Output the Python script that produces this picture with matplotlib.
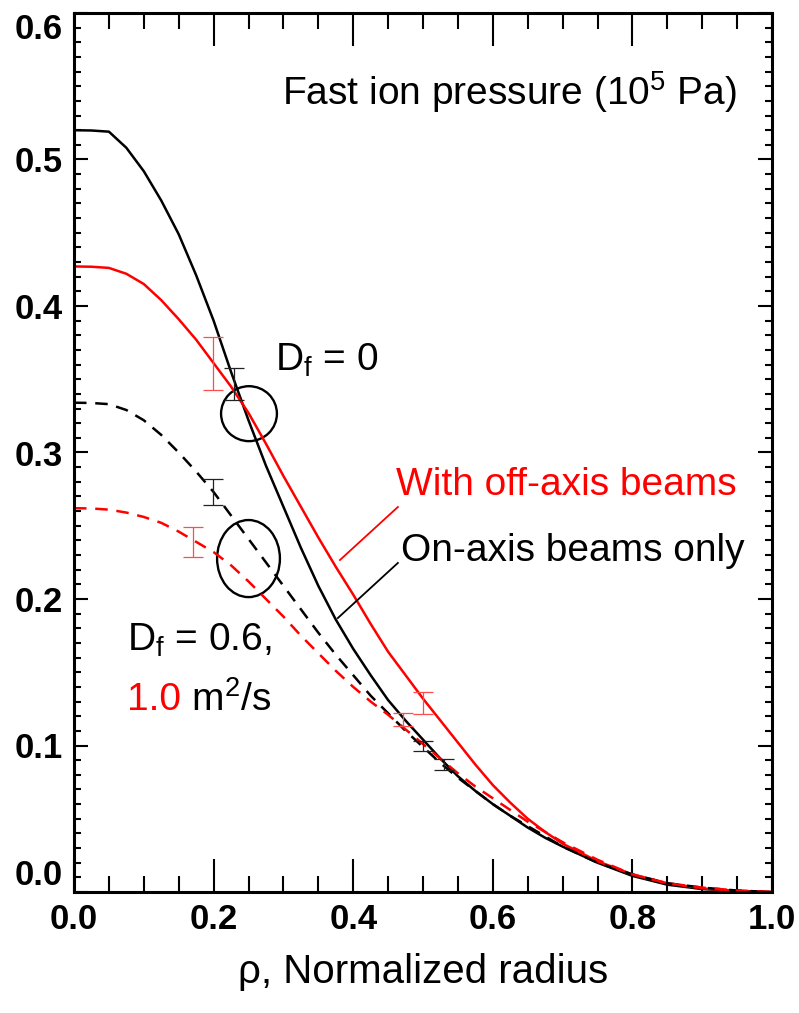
import matplotlib
matplotlib.use("Agg")
import matplotlib.pyplot as plt
from matplotlib import font_manager
from matplotlib.patches import Ellipse
from matplotlib.ticker import MultipleLocator

# pick a narrow helvetica-like font if there is one
narrow = "Liberation Sans Narrow"
try:
    font_manager.findfont(narrow, fallback_to_default=False)
except Exception:
    narrow = "Liberation Sans"
plt.rcParams["font.family"] = [narrow, "DejaVu Sans"]
plt.rcParams["mathtext.fontset"] = "custom"
plt.rcParams["mathtext.rm"] = narrow
plt.rcParams["mathtext.default"] = "regular"

rho = [0.0, 0.025, 0.05, 0.075, 0.1, 0.125, 0.15, 0.175, 0.2, 0.225, 0.25, 0.275, 0.3,
       0.325, 0.35, 0.375, 0.4, 0.425, 0.45, 0.475, 0.5, 0.525, 0.55, 0.575, 0.6,
       0.625, 0.65, 0.675, 0.7, 0.75, 0.8, 0.85, 0.9, 0.95, 1.0]

# D_f = 0
on_axis_d0 = [0.520, 0.5198, 0.519, 0.508, 0.492, 0.472, 0.449, 0.421, 0.390, 0.355, 0.322, 0.291, 0.263,
              0.235, 0.209, 0.186, 0.166, 0.148, 0.131, 0.117, 0.104, 0.091, 0.079, 0.069, 0.060,
              0.052, 0.044, 0.037, 0.031, 0.020, 0.011, 0.005, 0.002, 0.0008, 0.0]
off_axis_d0 = [0.427, 0.4268, 0.426, 0.422, 0.415, 0.404, 0.391, 0.377, 0.361, 0.345, 0.327, 0.306, 0.284,
               0.263, 0.242, 0.222, 0.203, 0.183, 0.164, 0.148, 0.132, 0.117, 0.102, 0.087, 0.073,
               0.061, 0.050, 0.041, 0.033, 0.021, 0.012, 0.006, 0.0025, 0.0006, 0.0]
# D_f = 0.6 / 1.0
on_axis_df = [0.334, 0.3338, 0.333, 0.329, 0.322, 0.312, 0.300, 0.287, 0.273, 0.257, 0.241, 0.225, 0.209,
              0.193, 0.177, 0.162, 0.148, 0.134, 0.122, 0.110, 0.099, 0.088, 0.078, 0.069, 0.060,
              0.052, 0.045, 0.038, 0.031, 0.020, 0.012, 0.006, 0.003, 0.001, 0.0]
off_axis_df = [0.262, 0.2618, 0.261, 0.259, 0.256, 0.252, 0.246, 0.239, 0.232, 0.223, 0.212, 0.200, 0.188,
               0.175, 0.163, 0.151, 0.140, 0.130, 0.121, 0.111, 0.101, 0.091, 0.081, 0.072, 0.064,
               0.056, 0.048, 0.041, 0.034, 0.022, 0.012, 0.006, 0.003, 0.001, 0.0]

# measurements with error bars
red_x = [0.17, 0.199, 0.471, 0.50]
red_y = [0.239, 0.361, 0.1175, 0.129]
red_err = [0.010, 0.018, 0.0045, 0.0075]
blk_x = [0.199, 0.229, 0.50, 0.53]
blk_y = [0.273, 0.347, 0.0995, 0.087]
blk_err = [0.009, 0.011, 0.0035, 0.004]

fig = plt.figure(figsize=(7.99, 10.13), dpi=100)
ax = fig.add_axes([74 / 799, 121 / 1013, 698 / 799, 879 / 1013])

ax.plot(rho, on_axis_d0, color="black", lw=1.8, solid_joinstyle="round")
ax.plot(rho, off_axis_d0, color="red", lw=1.8, solid_joinstyle="round")
ax.plot(rho, on_axis_df, color="black", lw=1.8, dashes=(5, 3.5))
ax.plot(rho, off_axis_df, color="red", lw=1.8, dashes=(5, 3.5))

ax.errorbar(red_x, red_y, yerr=red_err, fmt="none", ecolor="#ff4d4d", elinewidth=0.9, capsize=7, capthick=0.9)
ax.errorbar(blk_x, blk_y, yerr=blk_err, fmt="none", ecolor="#222222", elinewidth=0.9, capsize=7, capthick=0.9)

ax.add_patch(Ellipse((0.2507, 0.3265), 0.080, 0.0375, fill=False, lw=1.7, color="black"))
ax.add_patch(Ellipse((0.250, 0.2276), 0.090, 0.0526, fill=False, lw=1.7, color="black"))

ax.set_xlim(0, 1)
ax.set_ylim(0, 0.6)
ax.xaxis.set_major_locator(MultipleLocator(0.2))
ax.xaxis.set_minor_locator(MultipleLocator(0.05))
ax.yaxis.set_major_locator(MultipleLocator(0.1))
ax.yaxis.set_minor_locator(MultipleLocator(0.01))
ax.tick_params(which="both", direction="in", top=True, right=True, width=1.5)
ax.tick_params(axis="x", which="major", length=24, pad=8)
ax.tick_params(axis="x", which="minor", length=11.5)
ax.tick_params(axis="y", which="major", length=10, pad=8)
ax.tick_params(axis="y", which="minor", length=5)
for s in ax.spines.values():
    s.set_linewidth(2.2)

ax.set_xticks([0, 0.2, 0.4, 0.6, 0.8, 1.0])
ax.set_xticklabels(["0.0", "0.2", "0.4", "0.6", "0.8", "1.0"], fontsize=25, fontweight="bold")
ax.set_yticks([0, 0.1, 0.2, 0.3, 0.4, 0.5, 0.6])
ax.set_yticklabels(["0.0", "0.1", "0.2", "0.3", "0.4", "0.5", "0.6"], fontsize=25, fontweight="bold")
ylabs = ax.get_yticklabels()
ylabs[0].set_va("bottom")
ylabs[-1].set_va("top")

ax.set_xlabel("ρ, Normalized radius", fontsize=29, labelpad=12)

ax.text(0.95, 0.546, "Fast ion pressure (10$^5$ Pa)", fontsize=28, ha="right", va="center")
ax.text(0.288, 0.363, "D$_f$ = 0", fontsize=28, ha="left", va="center")
ax.text(0.95, 0.278, "With off-axis beams", fontsize=28, ha="right", va="center", color="red")
ax.text(0.961, 0.233, "On-axis beams only", fontsize=28, ha="right", va="center")
ax.text(0.076, 0.172, "D$_f$ = 0.6,", fontsize=28, ha="left", va="center")
t1 = ax.text(0.076, 0.131, "1.0", fontsize=28, ha="left", va="center", color="red")
ax.annotate(" m$^2$/s", xy=(1, 0.5), xycoords=t1, fontsize=28, ha="left", va="center")

# leader lines from the labels to the curves
ax.plot([0.381, 0.464], [0.2266, 0.2628], color="red", lw=1.3)
ax.plot([0.378, 0.464], [0.187, 0.2246], color="black", lw=1.3)

fig.savefig("out.png", dpi=100)
